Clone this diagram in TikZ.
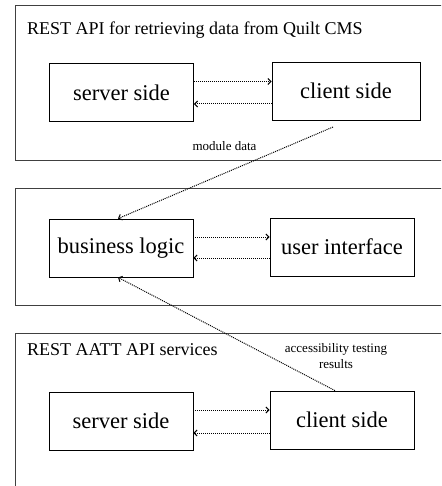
\documentclass[tikz,border=0pt]{standalone}
\usepackage{fontspec}
\setmainfont{Liberation Serif}
\usetikzlibrary{arrows.meta}

\begin{document}
\begin{tikzpicture}[x=1pt, y=-1pt,
    part/.style={draw, line width=.8pt, minimum width=144pt, minimum height=58pt, inner sep=0pt, font=\fontsize{22.5}{26}\selectfont},
    area/.style={draw=black!75, line width=.8pt},
    title/.style={anchor=west, inner sep=0pt, font=\fontsize{18}{21}\selectfont},
    note/.style={inner sep=0pt, align=center, font=\fontsize{13}{16}\selectfont},
    flow/.style={line width=1pt, dash pattern=on 1pt off 1pt, -{Straight Barb[length=3pt,width=6pt]}}]
          \clip (0,0) rectangle (441,486);
          % containers
          \draw [area] (15,5) rectangle (460,160);
          \draw [area] (15,188) rectangle (460,305);
          \draw [area] (15,333) rectangle (460,500);
          \node [title] (quilt) at (27,30) {REST API for retrieving data from Quilt CMS};
          \node [title] (aatt) at (27,350) {REST AATT API services};
          % parts
          \node [part] (ss1) at (121.5,92.5) {server side};
          \node [part, minimum width=148pt] (cs1) at (346,91) {client side};
          \node [part] (bl) at (121,248) {business logic};
          \node [part] (ui) at (342,247) {user interface};
          \node [part] (ss2) at (121,421) {server side};
          \node [part] (cs2) at (342,420) {client side};
          % links
          \draw [flow] ([yshift=11pt]ss1.east) -- ([yshift=11pt]ss1.east -| cs1.west);
          \draw [flow] ([yshift=-13pt]cs1.west) -- ([yshift=-13pt]cs1.west -| ss1.east);
          \draw [flow] ([yshift=11pt]bl.east) -- ([yshift=11pt]bl.east -| ui.west);
          \draw [flow] ([yshift=-11pt]ui.west) -- ([yshift=-11pt]ui.west -| bl.east);
          \draw [flow] ([yshift=11pt]ss2.east) -- ([yshift=11pt]ss2.east -| cs2.west);
          \draw [flow] ([yshift=-13pt]cs2.west) -- ([yshift=-13pt]cs2.west -| ss2.east);
          \coordinate (md) at (333,127);
          \draw [flow] (md) -- ([xshift=-3pt]bl.north);
          \draw [flow] ([xshift=-7pt]cs2.north) -- ([xshift=-3pt]bl.south);
          \node [note] (mdlabel) at (224.5,146) {module data};
          \node [note] (atlabel) at (336,356) {accessibility testing\\results};
        \end{tikzpicture}
\end{document}
